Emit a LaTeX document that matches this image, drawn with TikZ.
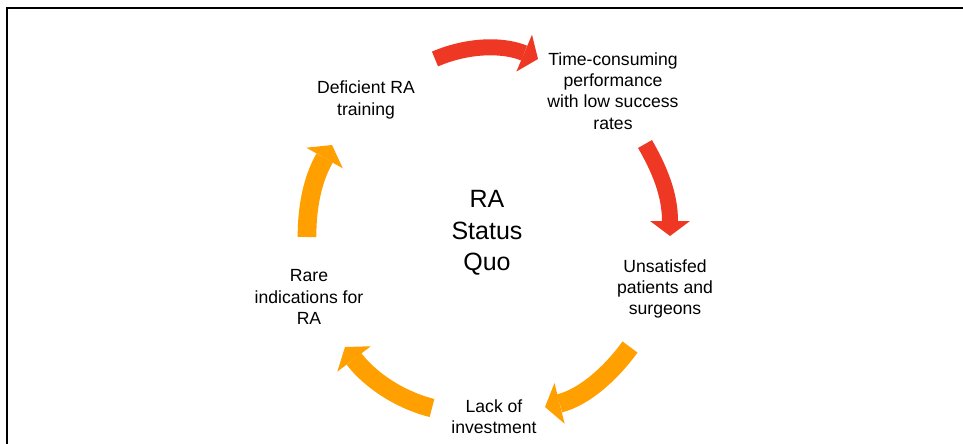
\documentclass[tikz,border=0pt]{standalone}
\usepackage{fontspec}
\setmainfont{Liberation Sans}
\usetikzlibrary{arrows.meta}
\definecolor{cyclered}{RGB}{238,56,36}
\definecolor{cycleorange}{RGB}{255,160,0}
\begin{document}
\begin{tikzpicture}[x=0.75pt,y=-0.75pt,
  steplabel/.style={align=center, inner sep=0pt,
    font=\fontsize{13.2pt}{15.9pt}\selectfont},
  hublabel/.style={align=center, inner sep=0pt,
    font=\fontsize{18.75pt}{23.6pt}\selectfont},
  redarrow/.style={draw=cyclered, line width=12pt,
    -{Triangle[length=11.25pt 0 0, width=30pt 0 0, line width=0pt 0 0, fill=cyclered]}},
  orangearrow/.style={draw=cycleorange, line width=14pt,
    -{Triangle[length=11.25pt 0 0, width=31.5pt 0 0, line width=0pt 0 0, fill=cycleorange]}},
  frameline/.style={line width=2pt, line cap=rect}]
\useasboundingbox (0,0) rectangle (963,443);
\clip (0,0) rectangle (963,443);

% open frame: left and top edges
\coordinate (fbl) at (7,470);
\coordinate (ftl) at (7,8);
\coordinate (ftr) at (990,8);
\draw[frameline] (fbl) -- (ftl) -- (ftr);

% centre of the cycle
\node[hublabel] (hub) at (487,233) {RA\\Status\\Quo};

% the five stages
\node[steplabel] (train) at (366,100) {Deficient RA\\training};
\node[steplabel] (perf) at (613,91) {Time-consuming\\performance\\with low success\\rates};
\node[steplabel] (unsat) at (665,289) {Unsatisfed\\patients and\\surgeons};
\node[steplabel] (invest) at (494,417) {Lack of\\investment};
\node[steplabel] (rare) at (309,297) {Rare\\indications for\\RA};

% arrow ends
\coordinate (a1s) at (435,59);
\coordinate (a1e) at (538,59);
\coordinate (a2s) at (645,144);
\coordinate (a2e) at (670,236);
\coordinate (a3s) at (630,347);
\coordinate (a3e) at (545,407);
\coordinate (a4s) at (432,408);
\coordinate (a4e) at (345,347);
\coordinate (a5s) at (307,237);
\coordinate (a5e) at (332,145);

% red arrows: training -> performance -> unsatisfied
\draw[redarrow] (a1s) .. controls (470,44) and (505,45) .. (a1e);
\draw[redarrow] (a2s) .. controls (660,170) and (670,195) .. (a2e);

% orange arrows: unsatisfied -> investment -> rare -> training
\draw[orangearrow] (a3s) .. controls (612,372) and (585,397) .. (a3e);
\draw[orangearrow] (a4s) .. controls (400,400) and (370,380) .. (a4e);
\draw[orangearrow] (a5s) .. controls (307,200) and (315,175) .. (a5e);
\end{tikzpicture}
\end{document}
